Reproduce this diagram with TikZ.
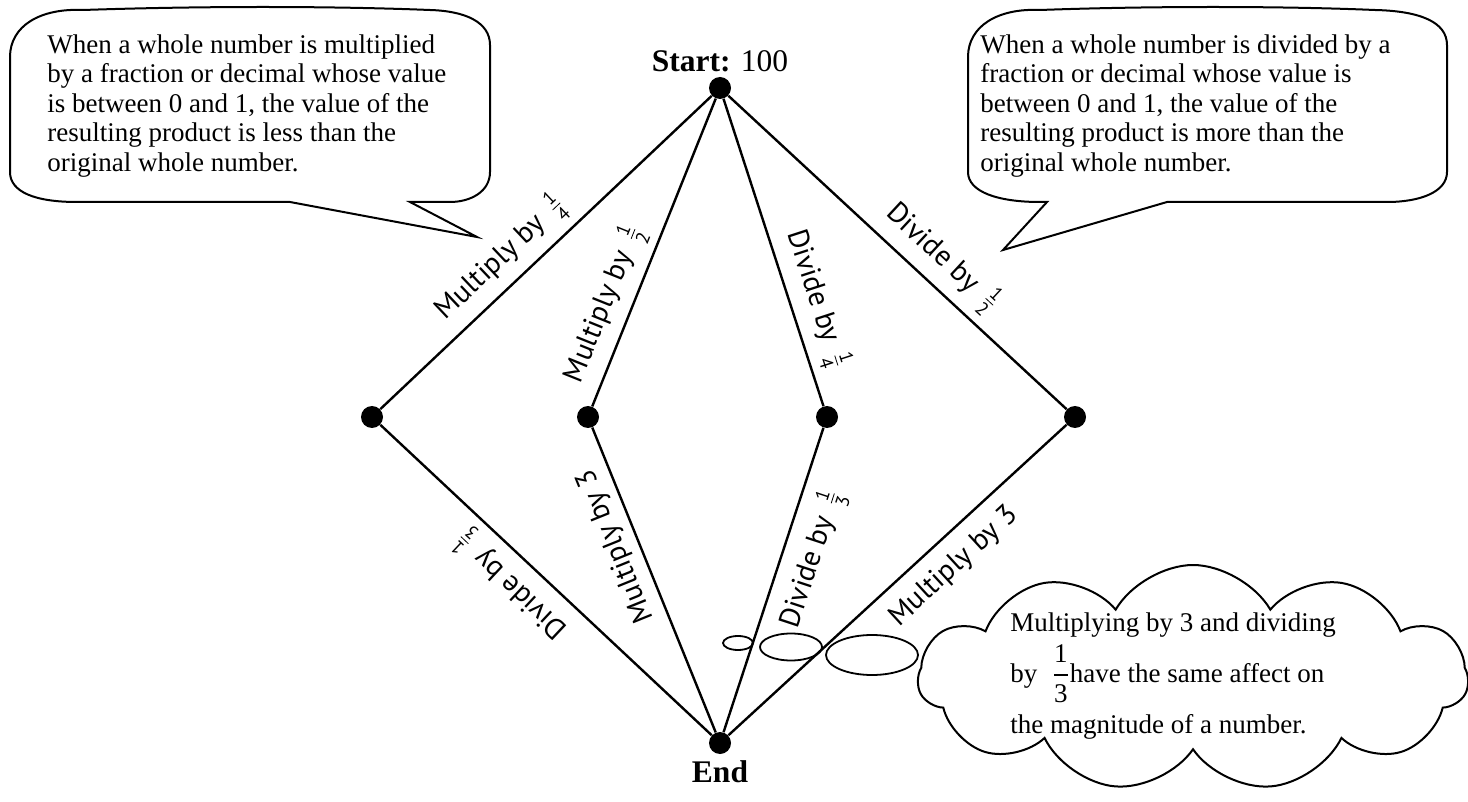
\documentclass[tikz,border=0pt]{standalone}
\usepackage{amsmath}
\usepackage{fontspec}
\setmainfont{Liberation Serif}
\setsansfont{PT Sans}
\usetikzlibrary{positioning,shapes.geometric,shapes.symbols}
\newcommand{\frc}[2]{\,$\genfrac{}{}{0.4pt}{1}{\text{\fontsize{9.5}{10}\selectfont #1}}{\text{\fontsize{9.5}{10}\selectfont #2}}$}

\begin{document}
\begin{tikzpicture}[x=0.5pt,y=-0.5pt,
    dot/.style={circle,fill,inner sep=0pt,minimum size=11pt},
    edge/.style={line width=1.2pt},
    lbl/.style={sloped,font=\sffamily\fontsize{14.5}{16}\selectfont,inner sep=4pt},
    box/.style={line width=1pt},
    note/.style={anchor=north west,inner sep=0pt,align=left,font=\fontsize{13.5}{14.75}\selectfont},
    bubble/.style={ellipse,draw,line width=0.9pt,inner sep=0pt}]
    \useasboundingbox (0,0) rectangle (1468,802);
    % 点
    \node[dot] (s) at (720,88) {};
    \node[dot] (e) at (720,743) {};
    \node[dot] (l) at (372,417) {};
    \node[dot] (ml) at (588,417) {};
    \node[dot] (mr) at (827,417) {};
    \node[dot] (r) at (1075,417) {};
    \node[above=2pt of s,inner sep=0pt,font=\fontsize{15.75}{18}\selectfont] (stlabel) {\textbf{Start:} 100};
    \node[below=3pt of e,inner sep=0pt,font=\fontsize{15.75}{18}\selectfont\bfseries] (endlabel) {End};
    % 辺
    \draw[edge] (l) -- (s) node[lbl,above,pos=0.42] (t1) {Multiply by \frc{1}{4}};
    \draw[edge] (ml) -- (s) node[lbl,above,pos=0.30] (t2) {Multiply by \frc{1}{2}};
    \draw[edge] (s) -- (mr) node[lbl,above,pos=0.68] (t3) {Divide by \frc{1}{4}};
    \draw[edge] (s) -- (r) node[lbl,above,pos=0.58] (t4) {Divide by \frc{1}{2}};
    \draw[edge] (e) -- (l) node[lbl,above,allow upside down,pos=0.55] (t5) {Divide by \frc{1}{3}};
    \draw[edge] (e) -- (ml) node[lbl,above,allow upside down,pos=0.64] (t6) {Multiply by 3};
    \draw[edge] (e) -- (mr) node[lbl,below=2pt,pos=0.60] (t7) {Divide by \frc{1}{3}};
    \draw[edge] (e) -- (r) node[lbl,below=3pt,pos=0.61] (t8) {Multiply by 3};
    % 吹き出し
    \coordinate (ltip) at (477,237);
    \coordinate (rtip) at (1003,250);
    \draw[box] (10,57) .. controls (10,26) and (40,8) .. (83,10) .. controls (200,6) and (330,6) .. (430,10)
        .. controls (465,11) and (490,22) .. (490,45) -- (490,172)
        .. controls (490,192) and (470,202) .. (450,202) -- (410,202) -- (ltip) -- (290,202)
        -- (77,202) .. controls (35,202) and (10,192) .. (10,172) -- cycle;
    \node[note] (lnote) at (47,34) {When a whole number is multiplied\\by a fraction or decimal whose value\\is between 0 and 1, the value of the\\resulting product is less than the\\original whole number.};
    \draw[box] (968,57) .. controls (968,26) and (998,8) .. (1040,10) .. controls (1150,6) and (1280,6) .. (1375,10)
        .. controls (1420,11) and (1447,22) .. (1447,45) -- (1447,172)
        .. controls (1447,192) and (1420,202) .. (1387,202) -- (1167,202) -- (rtip) -- (1047,202)
        -- (1040,202) .. controls (998,202) and (968,192) .. (968,172) -- cycle;
    \node[note] (rnote) at (980,34) {When a whole number is divided by a\\fraction or decimal whose value is\\between 0 and 1, the value of the\\resulting product is more than the\\original whole number.};
    % 雲
    \node[bubble,minimum width=15pt,minimum height=7pt] (b1) at (738,643) {};
    \node[bubble,minimum width=31pt,minimum height=13.5pt] (b2) at (791,647) {};
    \node[bubble,minimum width=46pt,minimum height=20pt] (b3) at (872,655) {};
    \node[cloud,draw,line width=1pt,cloud puffs=11,cloud puff arc=120,aspect=2.4,
        minimum width=275pt,minimum height=113pt,inner sep=0pt] (cloud) at (1193,678) {};
    \node[note] (cnote) at (1010,612) {Multiplying by 3 and dividing\\[3pt]by \;$\dfrac{\text{1}}{\text{3}}$have the same affect on\\[5pt]the magnitude of a number.};
\end{tikzpicture}
\end{document}
